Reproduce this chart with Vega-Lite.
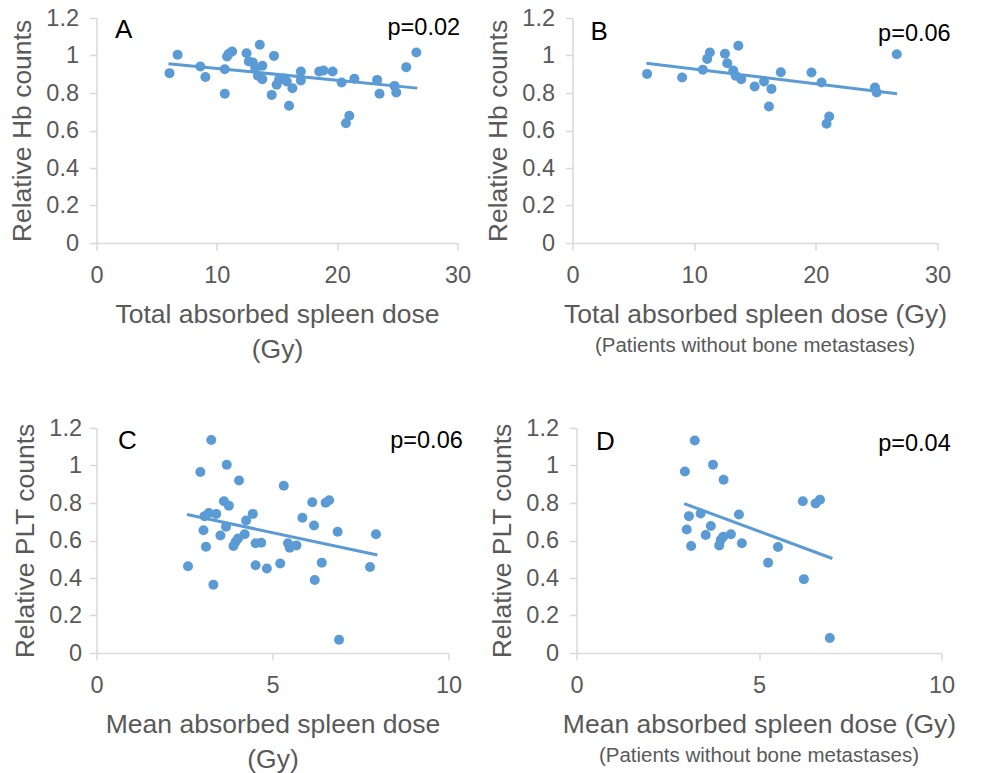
{
  "$schema": "https://vega.github.io/schema/vega-lite/v6.json",
  "background": "white",
  "padding": {"left": 9.5, "top": 6, "right": 0, "bottom": 0},
  "config": {
    "view": {"stroke": null},
    "font": "Liberation Sans",
    "axis": {
      "domainColor": "#d9d9d9", "tickColor": "#d9d9d9", "domainWidth": 1.5, "tickWidth": 1.5, "tickSize": 7,
      "labelColor": "#595959", "labelFontSize": 23.5, "labelFont": "Liberation Sans", "labelOverlap": false, "labelFlush": false,
      "titleColor": "#595959", "titleFontSize": 26.5, "titleFont": "Liberation Sans", "titleFontWeight": "normal",
      "grid": false
    },
    "axisX": {"labelPadding": 13, "titlePadding": 15, "titleLineHeight": 35},
    "axisY": {"labelPadding": 11, "titlePadding": 9},
    "title": {"font": "Liberation Sans", "fontSize": 20.5, "fontWeight": "normal", "color": "#595959", "orient": "bottom", "offset": 8}
  },
  "datasets": {
    "A": [
      {"dose": 6.07, "rel": 0.906}, {"dose": 6.74, "rel": 1.004}, {"dose": 8.63, "rel": 0.941}, {"dose": 9.05, "rel": 0.885},
      {"dose": 10.66, "rel": 0.927}, {"dose": 10.66, "rel": 0.796}, {"dose": 10.85, "rel": 0.995}, {"dose": 10.99, "rel": 1.009},
      {"dose": 11.27, "rel": 1.021}, {"dose": 12.47, "rel": 1.012}, {"dose": 12.66, "rel": 0.968}, {"dose": 13.0, "rel": 0.963},
      {"dose": 13.2, "rel": 0.932}, {"dose": 13.57, "rel": 1.057}, {"dose": 13.78, "rel": 0.945}, {"dose": 13.41, "rel": 0.892},
      {"dose": 13.78, "rel": 0.874}, {"dose": 14.75, "rel": 0.998}, {"dose": 14.56, "rel": 0.79}, {"dose": 14.97, "rel": 0.844},
      {"dose": 15.17, "rel": 0.87}, {"dose": 15.81, "rel": 0.861}, {"dose": 16.0, "rel": 0.732}, {"dose": 16.28, "rel": 0.826},
      {"dose": 16.98, "rel": 0.915}, {"dose": 16.98, "rel": 0.867}, {"dose": 18.51, "rel": 0.915}, {"dose": 18.87, "rel": 0.92},
      {"dose": 19.62, "rel": 0.915}, {"dose": 20.37, "rel": 0.856}, {"dose": 21.01, "rel": 0.679}, {"dose": 20.73, "rel": 0.639},
      {"dose": 21.43, "rel": 0.876}, {"dose": 23.32, "rel": 0.87}, {"dose": 23.52, "rel": 0.796}, {"dose": 24.77, "rel": 0.838},
      {"dose": 24.91, "rel": 0.803}, {"dose": 25.74, "rel": 0.938}, {"dose": 26.58, "rel": 1.016}, {"dose": 15.6, "rel": 0.878}
    ],
    "B": [
      {"dose": 6.13, "rel": 0.902}, {"dose": 9.01, "rel": 0.883}, {"dose": 10.71, "rel": 0.924}, {"dose": 11.07, "rel": 0.982},
      {"dose": 11.29, "rel": 1.016}, {"dose": 12.53, "rel": 1.009}, {"dose": 12.72, "rel": 0.959}, {"dose": 13.63, "rel": 1.052},
      {"dose": 13.21, "rel": 0.92}, {"dose": 13.41, "rel": 0.892}, {"dose": 13.87, "rel": 0.874}, {"dose": 14.97, "rel": 0.835},
      {"dose": 15.74, "rel": 0.861}, {"dose": 16.35, "rel": 0.822}, {"dose": 16.15, "rel": 0.728}, {"dose": 17.12, "rel": 0.911},
      {"dose": 19.64, "rel": 0.909}, {"dose": 20.47, "rel": 0.856}, {"dose": 21.1, "rel": 0.675}, {"dose": 20.88, "rel": 0.636},
      {"dose": 24.86, "rel": 0.829}, {"dose": 25.0, "rel": 0.803}, {"dose": 26.65, "rel": 1.007}
    ],
    "C": [
      {"dose": 3.26, "rel": 1.136}, {"dose": 2.95, "rel": 0.965}, {"dose": 3.7, "rel": 1.004}, {"dose": 4.05, "rel": 0.92},
      {"dose": 5.32, "rel": 0.892}, {"dose": 3.62, "rel": 0.809}, {"dose": 3.76, "rel": 0.786}, {"dose": 3.19, "rel": 0.747},
      {"dose": 3.07, "rel": 0.73}, {"dose": 3.4, "rel": 0.742}, {"dose": 3.04, "rel": 0.655}, {"dose": 3.68, "rel": 0.673},
      {"dose": 3.52, "rel": 0.627}, {"dose": 3.11, "rel": 0.567}, {"dose": 2.6, "rel": 0.463}, {"dose": 3.32, "rel": 0.364},
      {"dose": 4.25, "rel": 0.707}, {"dose": 4.44, "rel": 0.742}, {"dose": 4.21, "rel": 0.633}, {"dose": 4.02, "rel": 0.611},
      {"dose": 3.95, "rel": 0.592}, {"dose": 3.89, "rel": 0.571}, {"dose": 4.52, "rel": 0.585}, {"dose": 4.68, "rel": 0.588},
      {"dose": 4.52, "rel": 0.468}, {"dose": 4.84, "rel": 0.451}, {"dose": 5.22, "rel": 0.477}, {"dose": 5.44, "rel": 0.585},
      {"dose": 5.49, "rel": 0.562}, {"dose": 5.68, "rel": 0.574}, {"dose": 5.85, "rel": 0.721}, {"dose": 6.13, "rel": 0.804},
      {"dose": 6.18, "rel": 0.68}, {"dose": 6.51, "rel": 0.801}, {"dose": 6.61, "rel": 0.815}, {"dose": 6.85, "rel": 0.647},
      {"dose": 6.4, "rel": 0.482}, {"dose": 6.2, "rel": 0.389}, {"dose": 6.89, "rel": 0.071}, {"dose": 7.77, "rel": 0.459},
      {"dose": 7.94, "rel": 0.633}
    ],
    "D": [
      {"dose": 3.24, "rel": 1.133}, {"dose": 2.97, "rel": 0.968}, {"dose": 3.74, "rel": 1.004}, {"dose": 4.03, "rel": 0.924},
      {"dose": 6.2, "rel": 0.809}, {"dose": 6.55, "rel": 0.797}, {"dose": 6.67, "rel": 0.818}, {"dose": 3.08, "rel": 0.73},
      {"dose": 3.4, "rel": 0.744}, {"dose": 4.45, "rel": 0.739}, {"dose": 3.02, "rel": 0.659}, {"dose": 3.68, "rel": 0.677},
      {"dose": 3.54, "rel": 0.629}, {"dose": 4.23, "rel": 0.633}, {"dose": 4.02, "rel": 0.62}, {"dose": 3.95, "rel": 0.603},
      {"dose": 3.91, "rel": 0.574}, {"dose": 3.14, "rel": 0.571}, {"dose": 4.53, "rel": 0.585}, {"dose": 5.52, "rel": 0.565},
      {"dose": 5.25, "rel": 0.482}, {"dose": 6.23, "rel": 0.394}, {"dose": 6.94, "rel": 0.08}
    ],
    "trendA": [{"dose": 5.98, "rel": 0.956}, {"dose": 26.66, "rel": 0.826}],
    "trendB": [{"dose": 6.07, "rel": 0.959}, {"dose": 26.68, "rel": 0.796}],
    "trendC": [{"dose": 2.57, "rel": 0.739}, {"dose": 7.98, "rel": 0.523}],
    "trendD": [{"dose": 2.95, "rel": 0.797}, {"dose": 7.01, "rel": 0.504}],
    "labA": [{"letter": "A", "p": "p=0.02"}],
    "labB": [{"letter": "B", "p": "p=0.06"}],
    "labC": [{"letter": "C", "p": "p=0.06"}],
    "labD": [{"letter": "D", "p": "p=0.04"}]
  },
  "vconcat": [
    {
      "hconcat": [
        {
          "width": 361, "height": 225,
          "layer": [
            {"data": {"name": "A"}, "mark": {"type": "circle", "size": 100, "opacity": 1, "color": "#5b9bd5"},
             "encoding": {
               "x": {"field": "dose", "type": "quantitative", "scale": {"domain": [0, 30]}, "axis": {"values": [0, 10, 20, 30], "labelOverlap": false, "title": ["Total absorbed spleen dose", "(Gy)"]}},
               "y": {"field": "rel", "type": "quantitative", "scale": {"domain": [0, 1.2]}, "axis": {"values": [0, 0.2, 0.4, 0.6, 0.8, 1, 1.2], "labelOverlap": false, "tickCount": 7, "format": "~g", "title": "Relative Hb counts"}}
             }},
            {"data": {"name": "trendA"}, "mark": {"type": "line", "strokeWidth": 3, "color": "#5b9bd5"},
             "encoding": {"x": {"field": "dose", "type": "quantitative"}, "y": {"field": "rel", "type": "quantitative"}}},
            {"data": {"name": "labA"}, "mark": {"type": "text", "fontSize": 26, "color": "black", "align": "center", "baseline": "middle"},
             "encoding": {"x": {"datum": 2.26, "type": "quantitative"}, "y": {"datum": 1.136, "type": "quantitative"}, "text": {"field": "letter"}}},
            {"data": {"name": "labA"}, "mark": {"type": "text", "fontSize": 23.5, "color": "black", "align": "center", "baseline": "middle"},
             "encoding": {"x": {"datum": 27.2, "type": "quantitative"}, "y": {"datum": 1.147, "type": "quantitative"}, "text": {"field": "p"}}}
          ]
        },
        {
          "width": 365, "height": 225,
          "title": {"text": "(Patients without bone metastases)"},
          "layer": [
            {"data": {"name": "B"}, "mark": {"type": "circle", "size": 100, "opacity": 1, "color": "#5b9bd5"},
             "encoding": {
               "x": {"field": "dose", "type": "quantitative", "scale": {"domain": [0, 30]}, "axis": {"values": [0, 10, 20, 30], "labelOverlap": false, "title": "Total absorbed spleen dose (Gy)"}},
               "y": {"field": "rel", "type": "quantitative", "scale": {"domain": [0, 1.2]}, "axis": {"values": [0, 0.2, 0.4, 0.6, 0.8, 1, 1.2], "labelOverlap": false, "tickCount": 7, "format": "~g", "title": "Relative Hb counts"}}
             }},
            {"data": {"name": "trendB"}, "mark": {"type": "line", "strokeWidth": 3, "color": "#5b9bd5"},
             "encoding": {"x": {"field": "dose", "type": "quantitative"}, "y": {"field": "rel", "type": "quantitative"}}},
            {"data": {"name": "labB"}, "mark": {"type": "text", "fontSize": 26, "color": "black", "align": "center", "baseline": "middle"},
             "encoding": {"x": {"datum": 2.2, "type": "quantitative"}, "y": {"datum": 1.125, "type": "quantitative"}, "text": {"field": "letter"}}},
            {"data": {"name": "labB"}, "mark": {"type": "text", "fontSize": 23.5, "color": "black", "align": "center", "baseline": "middle"},
             "encoding": {"x": {"datum": 28.1, "type": "quantitative"}, "y": {"datum": 1.115, "type": "quantitative"}, "text": {"field": "p"}}}
          ]
        }
      ],
      "spacing": 14
    },
    {
      "hconcat": [
        {
          "width": 352, "height": 225,
          "layer": [
            {"data": {"name": "C"}, "mark": {"type": "circle", "size": 100, "opacity": 1, "color": "#5b9bd5"},
             "encoding": {
               "x": {"field": "dose", "type": "quantitative", "scale": {"domain": [0, 10]}, "axis": {"values": [0, 5, 10], "labelOverlap": false, "title": ["Mean absorbed spleen dose", "(Gy)"]}},
               "y": {"field": "rel", "type": "quantitative", "scale": {"domain": [0, 1.2]}, "axis": {"values": [0, 0.2, 0.4, 0.6, 0.8, 1, 1.2], "labelOverlap": false, "tickCount": 7, "format": "~g", "title": "Relative PLT counts", "labelPadding": 8}}
             }},
            {"data": {"name": "trendC"}, "mark": {"type": "line", "strokeWidth": 3, "color": "#5b9bd5"},
             "encoding": {"x": {"field": "dose", "type": "quantitative"}, "y": {"field": "rel", "type": "quantitative"}}},
            {"data": {"name": "labC"}, "mark": {"type": "text", "fontSize": 26, "color": "black", "align": "center", "baseline": "middle"},
             "encoding": {"x": {"datum": 0.88, "type": "quantitative"}, "y": {"datum": 1.131, "type": "quantitative"}, "text": {"field": "letter"}}},
            {"data": {"name": "labC"}, "mark": {"type": "text", "fontSize": 23.5, "color": "black", "align": "center", "baseline": "middle"},
             "encoding": {"x": {"datum": 9.375, "type": "quantitative"}, "y": {"datum": 1.131, "type": "quantitative"}, "text": {"field": "p"}}}
          ]
        },
        {
          "width": 365, "height": 225,
          "title": {"text": "(Patients without bone metastases)"},
          "layer": [
            {"data": {"name": "D"}, "mark": {"type": "circle", "size": 100, "opacity": 1, "color": "#5b9bd5"},
             "encoding": {
               "x": {"field": "dose", "type": "quantitative", "scale": {"domain": [0, 10]}, "axis": {"values": [0, 5, 10], "labelOverlap": false, "title": "Mean absorbed spleen dose (Gy)"}},
               "y": {"field": "rel", "type": "quantitative", "scale": {"domain": [0, 1.2]}, "axis": {"values": [0, 0.2, 0.4, 0.6, 0.8, 1, 1.2], "labelOverlap": false, "tickCount": 7, "format": "~g", "title": "Relative PLT counts"}}
             }},
            {"data": {"name": "trendD"}, "mark": {"type": "line", "strokeWidth": 3, "color": "#5b9bd5"},
             "encoding": {"x": {"field": "dose", "type": "quantitative"}, "y": {"field": "rel", "type": "quantitative"}}},
            {"data": {"name": "labD"}, "mark": {"type": "text", "fontSize": 26, "color": "black", "align": "center", "baseline": "middle"},
             "encoding": {"x": {"datum": 0.79, "type": "quantitative"}, "y": {"datum": 1.125, "type": "quantitative"}, "text": {"field": "letter"}}},
            {"data": {"name": "labD"}, "mark": {"type": "text", "fontSize": 23.5, "color": "black", "align": "center", "baseline": "middle"},
             "encoding": {"x": {"datum": 9.26, "type": "quantitative"}, "y": {"datum": 1.115, "type": "quantitative"}, "text": {"field": "p"}}}
          ]
        }
      ],
      "spacing": 26
    }
  ],
  "spacing": 53
}
